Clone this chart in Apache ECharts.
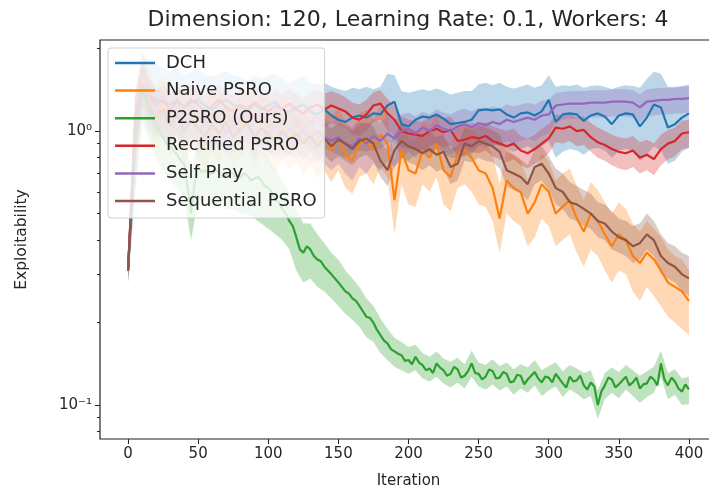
<!DOCTYPE html>
<html>
<head>
<meta charset="utf-8">
<script src="https://cdn.jsdelivr.net/npm/echarts@6/dist/echarts.min.js"></script>
<style>
  html, body { margin: 0; padding: 0; background: #fff; }
  #chart { width: 709px; height: 496px; }
</style>
</head>
<body>
<div id="chart"></div>
<script>
// Iterations sampled every 5 steps
const ITERATIONS = [0,5,10,15,20,25,30,35,40,45,50,55,60,65,70,75,80,85,90,95,100,105,110,115,120,125,130,135,140,145,150,155,160,165,170,175,180,185,190,195,200,205,210,215,220,225,230,235,240,245,250,255,260,265,270,275,280,285,290,295,300,305,310,315,320,325,330,335,340,345,350,355,360,365,370,375,380,385,390,395,400];

// P2SRO mean curve is logged at a finer step
const P2SRO_ITERATIONS = [0,2.5,5,7.5,10,12.5,15,17.5,20,22.5,25,27.5,30,32.5,35,37.5,40,42.5,45,47.5,50,52.5,55,57.5,60,62.5,65,67.5,70,72.5,75,77.5,80,82.5,85,87.5,90,92.5,95,97.5,100,102.5,105,107.5,110,112.5,115,117.5,120,122.5,125,127.5,130,132.5,135,137.5,140,142.5,145,147.5,150,152.5,155,157.5,160,162.5,165,167.5,170,172.5,175,177.5,180,182.5,185,187.5,190,192.5,195,197.5,200,202.5,205,207.5,210,212.5,215,217.5,220,222.5,225,227.5,230,232.5,235,237.5,240,242.5,245,247.5,250,252.5,255,257.5,260,262.5,265,267.5,270,272.5,275,277.5,280,282.5,285,287.5,290,292.5,295,297.5,300,302.5,305,307.5,310,312.5,315,317.5,320,322.5,325,327.5,330,332.5,335,337.5,340,342.5,345,347.5,350,352.5,355,357.5,360,362.5,365,367.5,370,372.5,375,377.5,380,382.5,385,387.5,390,392.5,395,397.5,400];

const SERIES_NAMES = ['DCH', 'Naive PSRO', 'P2SRO (Ours)', 'Rectified PSRO', 'Self Play', 'Sequential PSRO'];

const DCH_MEAN = [0.31,0.9,1.45,1.35,1.3,1.28,1.25,1.3,1.22,1.27,1.3,1.24,1.2,1.26,1.3,1.25,1.22,1.18,1.25,1.2,1.24,1.28,1.2,1.17,1.22,1.25,1.18,1.15,1.2,1.14,1.1,1.08,1.12,1.14,1.12,1.16,1.15,1.24,1.28,1.06,1.04,1.1,1.13,1.12,1.15,1.11,1.06,1.07,1.08,1.1,1.19,1.2,1.19,1.2,1.15,1.12,1.16,1.17,1.14,1.18,1.3,1.08,1.15,1.16,1.15,1.09,1.14,1.16,1.13,1.06,1.14,1.16,1.15,1.04,1.12,1.25,1.22,1.03,1.06,1.12,1.16];
const DCH_UPPER = [0.34,1.3,1.9,1.8,1.75,1.7,1.65,1.7,1.6,1.65,1.7,1.6,1.58,1.62,1.66,1.6,1.58,1.52,1.6,1.55,1.6,1.62,1.55,1.5,1.55,1.58,1.5,1.48,1.5,1.45,1.42,1.4,1.44,1.42,1.45,1.42,1.45,1.62,1.6,1.4,1.38,1.4,1.42,1.4,1.43,1.4,1.36,1.38,1.4,1.4,1.48,1.5,1.47,1.5,1.45,1.43,1.45,1.48,1.44,1.47,1.6,1.45,1.47,1.46,1.48,1.44,1.46,1.47,1.45,1.42,1.45,1.47,1.46,1.44,1.55,1.65,1.62,1.45,1.44,1.46,1.48];
const DCH_LOWER = [0.28,0.6,1.1,1.0,0.95,0.95,0.92,0.95,0.9,0.92,0.95,0.9,0.88,0.92,0.95,0.9,0.88,0.86,0.9,0.87,0.9,0.92,0.88,0.85,0.88,0.9,0.86,0.84,0.87,0.84,0.82,0.8,0.83,0.85,0.84,0.86,0.86,0.9,0.92,0.8,0.78,0.82,0.85,0.84,0.86,0.83,0.8,0.8,0.81,0.82,0.88,0.9,0.88,0.9,0.86,0.84,0.86,0.88,0.85,0.88,0.92,0.8,0.84,0.86,0.85,0.82,0.86,0.87,0.85,0.8,0.85,0.86,0.85,0.78,0.82,0.88,0.85,0.76,0.78,0.84,0.87];

const NAIVE_MEAN = [0.31,1.0,1.55,1.3,1.1,1.25,1.05,1.2,1.0,1.15,1.05,0.95,1.1,1.0,1.12,0.95,1.05,1.1,0.95,1.08,1.0,0.92,1.05,0.95,1.02,0.9,1.0,0.88,0.95,0.85,0.95,0.82,0.78,0.9,0.93,0.85,0.97,0.9,0.56,0.85,0.72,0.7,0.85,0.8,0.9,0.72,0.68,0.82,0.85,0.8,0.72,0.7,0.62,0.48,0.66,0.62,0.6,0.5,0.55,0.64,0.6,0.5,0.53,0.56,0.48,0.43,0.5,0.47,0.42,0.38,0.42,0.4,0.35,0.33,0.36,0.34,0.31,0.28,0.27,0.26,0.24];
const NAIVE_UPPER = [0.34,1.4,1.95,1.7,1.45,1.6,1.38,1.55,1.32,1.48,1.38,1.25,1.42,1.3,1.45,1.25,1.36,1.42,1.25,1.4,1.3,1.2,1.36,1.24,1.32,1.18,1.3,1.15,1.24,1.12,1.22,1.08,1.02,1.16,1.2,1.1,1.24,1.16,0.78,1.1,0.94,0.92,1.1,1.04,1.15,0.94,0.9,1.06,1.1,1.04,0.94,0.92,0.82,0.64,0.86,0.82,0.78,0.66,0.72,0.83,0.78,0.66,0.7,0.73,0.63,0.56,0.65,0.61,0.55,0.5,0.55,0.52,0.46,0.43,0.47,0.44,0.41,0.37,0.35,0.34,0.31];
const NAIVE_LOWER = [0.28,0.7,1.2,1.0,0.84,0.95,0.8,0.92,0.76,0.88,0.8,0.72,0.84,0.76,0.86,0.72,0.8,0.84,0.72,0.82,0.76,0.7,0.8,0.72,0.78,0.68,0.76,0.67,0.72,0.65,0.72,0.62,0.59,0.68,0.7,0.64,0.74,0.68,0.42,0.64,0.54,0.53,0.64,0.6,0.68,0.54,0.51,0.62,0.64,0.6,0.54,0.53,0.47,0.36,0.5,0.47,0.45,0.38,0.41,0.48,0.45,0.38,0.4,0.42,0.36,0.32,0.37,0.35,0.31,0.28,0.31,0.3,0.26,0.24,0.27,0.25,0.23,0.21,0.2,0.19,0.18];

const P2SRO_MEAN = [0.31,0.55,0.9,1.25,1.4,1.3,1.2,1.12,1.05,1.0,0.95,0.9,0.88,0.85,0.82,0.78,0.76,0.62,0.5,0.65,0.74,0.71,0.72,0.7,0.7,0.72,0.71,0.68,0.69,0.71,0.7,0.67,0.68,0.7,0.69,0.66,0.67,0.68,0.66,0.63,0.62,0.6,0.56,0.55,0.52,0.5,0.47,0.45,0.41,0.37,0.36,0.38,0.37,0.35,0.34,0.335,0.32,0.31,0.3,0.29,0.28,0.27,0.26,0.255,0.245,0.24,0.23,0.22,0.21,0.208,0.2,0.188,0.18,0.172,0.168,0.16,0.157,0.154,0.152,0.145,0.146,0.141,0.15,0.143,0.14,0.134,0.136,0.131,0.142,0.137,0.134,0.128,0.13,0.138,0.135,0.126,0.128,0.133,0.142,0.131,0.13,0.124,0.127,0.135,0.133,0.125,0.126,0.132,0.13,0.121,0.122,0.129,0.128,0.119,0.124,0.128,0.132,0.125,0.121,0.127,0.126,0.121,0.13,0.125,0.12,0.116,0.127,0.122,0.123,0.128,0.118,0.114,0.121,0.117,0.1,0.112,0.118,0.126,0.124,0.116,0.119,0.123,0.127,0.118,0.121,0.126,0.115,0.119,0.12,0.127,0.124,0.118,0.142,0.124,0.118,0.126,0.122,0.115,0.112,0.119,0.114];
const P2SRO_UPPER = [0.34,1.2,1.8,1.6,1.38,1.25,1.15,1.06,0.98,0.7,0.96,0.94,0.92,0.92,0.9,0.9,0.88,0.88,0.86,0.85,0.8,0.72,0.66,0.6,0.52,0.46,0.46,0.42,0.39,0.36,0.34,0.31,0.29,0.27,0.245,0.23,0.207,0.19,0.176,0.17,0.163,0.166,0.155,0.15,0.157,0.148,0.144,0.149,0.141,0.158,0.143,0.14,0.147,0.139,0.143,0.135,0.141,0.137,0.146,0.134,0.139,0.143,0.133,0.14,0.136,0.131,0.134,0.113,0.131,0.137,0.132,0.14,0.134,0.128,0.133,0.138,0.158,0.131,0.135,0.125,0.127];
const P2SRO_LOWER = [0.28,0.6,1.1,0.92,0.8,0.72,0.66,0.62,0.57,0.4,0.56,0.55,0.54,0.54,0.52,0.52,0.5,0.5,0.48,0.46,0.44,0.42,0.4,0.37,0.31,0.28,0.29,0.27,0.26,0.245,0.23,0.215,0.205,0.193,0.177,0.17,0.155,0.146,0.138,0.134,0.13,0.134,0.125,0.122,0.127,0.12,0.116,0.121,0.115,0.127,0.117,0.114,0.119,0.113,0.117,0.109,0.115,0.111,0.118,0.108,0.113,0.117,0.107,0.114,0.11,0.105,0.108,0.089,0.105,0.111,0.106,0.114,0.108,0.102,0.107,0.111,0.127,0.105,0.109,0.1,0.101];

const RECTIFIED_MEAN = [0.31,1.1,1.5,1.35,1.25,1.3,1.2,1.28,1.22,1.3,1.25,1.18,1.24,1.3,1.22,1.18,1.25,1.2,1.28,1.22,1.18,1.24,1.2,1.26,1.2,1.16,1.22,1.25,1.2,1.24,1.21,1.18,1.12,1.1,1.15,1.24,1.26,1.16,1.1,1.0,0.98,0.97,0.96,1.0,1.02,0.99,1.01,0.92,0.93,0.95,0.94,0.96,0.92,0.9,0.88,0.9,0.85,0.83,0.86,0.9,0.94,1.03,1.02,1.04,1.0,1.01,0.95,0.91,0.89,0.86,0.84,0.83,0.85,0.8,0.82,0.79,0.86,0.9,0.92,0.98,0.99];
const RECTIFIED_UPPER = [0.33,1.35,1.75,1.55,1.43,1.48,1.37,1.46,1.4,1.48,1.42,1.35,1.41,1.48,1.39,1.35,1.42,1.37,1.46,1.39,1.35,1.41,1.37,1.43,1.37,1.32,1.39,1.42,1.37,1.4,1.37,1.33,1.27,1.25,1.3,1.39,1.41,1.31,1.24,1.13,1.1,1.09,1.08,1.12,1.14,1.11,1.13,1.04,1.05,1.07,1.06,1.08,1.04,1.02,1.0,1.02,0.96,0.94,0.97,1.02,1.06,1.15,1.14,1.16,1.12,1.13,1.07,1.03,1.0,0.97,0.95,0.94,0.96,0.91,0.93,0.9,0.97,1.01,1.03,1.09,1.1];
const RECTIFIED_LOWER = [0.29,0.85,1.28,1.15,1.07,1.12,1.03,1.1,1.05,1.12,1.08,1.02,1.07,1.12,1.05,1.02,1.08,1.03,1.1,1.05,1.02,1.07,1.03,1.09,1.03,1.0,1.05,1.08,1.03,1.07,1.05,1.03,0.97,0.96,1.0,1.08,1.1,1.01,0.96,0.87,0.86,0.85,0.84,0.88,0.9,0.87,0.89,0.81,0.82,0.84,0.83,0.85,0.81,0.79,0.77,0.79,0.75,0.73,0.76,0.79,0.83,0.91,0.9,0.92,0.88,0.89,0.84,0.8,0.78,0.75,0.73,0.72,0.74,0.7,0.72,0.69,0.75,0.79,0.81,0.86,0.87];

const SELFPLAY_MEAN = [0.31,1.0,1.5,1.3,1.2,1.15,1.1,1.18,1.05,1.12,1.0,1.08,1.02,1.1,0.98,1.05,1.0,1.08,0.97,1.03,0.98,1.05,0.96,1.02,0.97,1.0,0.94,1.0,0.95,0.92,0.95,0.9,0.88,0.94,0.9,0.96,0.92,0.98,0.94,1.0,1.02,0.98,1.03,1.0,1.05,1.02,1.0,1.04,1.06,1.03,1.07,1.05,1.08,1.06,1.1,1.08,1.1,1.12,1.1,1.14,1.15,1.24,1.25,1.26,1.26,1.26,1.27,1.27,1.27,1.28,1.28,1.28,1.27,1.22,1.28,1.29,1.3,1.3,1.31,1.31,1.32];
const SELFPLAY_UPPER = [0.33,1.3,1.8,1.55,1.42,1.36,1.3,1.38,1.24,1.32,1.18,1.27,1.2,1.3,1.16,1.24,1.18,1.27,1.14,1.21,1.15,1.23,1.13,1.2,1.14,1.17,1.1,1.17,1.11,1.08,1.1,1.05,1.03,1.09,1.05,1.11,1.07,1.13,1.09,1.15,1.17,1.13,1.18,1.15,1.2,1.17,1.15,1.19,1.21,1.18,1.22,1.2,1.23,1.21,1.25,1.23,1.25,1.27,1.25,1.29,1.3,1.38,1.39,1.4,1.4,1.4,1.41,1.41,1.41,1.42,1.42,1.42,1.41,1.36,1.42,1.43,1.44,1.44,1.45,1.45,1.46];
const SELFPLAY_LOWER = [0.29,0.75,1.25,1.08,0.99,0.95,0.9,0.97,0.86,0.92,0.82,0.88,0.83,0.9,0.8,0.86,0.82,0.88,0.79,0.84,0.8,0.86,0.78,0.83,0.79,0.82,0.76,0.8,0.76,0.72,0.76,0.7,0.66,0.74,0.7,0.76,0.72,0.78,0.74,0.8,0.84,0.8,0.85,0.82,0.87,0.84,0.82,0.86,0.88,0.85,0.89,0.87,0.9,0.88,0.92,0.9,0.92,0.94,0.92,0.96,0.98,1.08,1.1,1.11,1.11,1.11,1.12,1.12,1.12,1.13,1.13,1.13,1.12,1.08,1.13,1.14,1.15,1.15,1.16,1.16,1.17];

const SEQUENTIAL_MEAN = [0.31,1.05,1.45,1.25,1.12,1.2,1.05,1.15,1.0,1.1,1.02,0.96,1.06,0.98,1.08,0.95,1.02,1.06,0.95,1.02,0.97,0.92,1.0,0.93,0.98,0.9,0.96,0.88,0.94,0.88,0.93,0.9,0.86,0.92,0.94,0.9,0.78,0.72,0.85,0.92,0.88,0.86,0.83,0.86,0.82,0.84,0.74,0.76,0.9,0.88,0.92,0.9,0.88,0.84,0.72,0.7,0.68,0.64,0.74,0.76,0.7,0.62,0.6,0.55,0.54,0.52,0.5,0.47,0.46,0.43,0.41,0.4,0.38,0.39,0.42,0.4,0.35,0.33,0.32,0.3,0.29];
const SEQUENTIAL_UPPER = [0.33,1.35,1.75,1.48,1.32,1.4,1.22,1.34,1.16,1.28,1.18,1.11,1.23,1.14,1.25,1.1,1.18,1.22,1.1,1.18,1.12,1.06,1.15,1.07,1.13,1.04,1.1,1.02,1.08,1.02,1.07,1.04,1.0,1.06,1.08,1.04,0.91,0.85,0.98,1.06,1.02,1.0,0.96,0.99,0.95,0.97,0.86,0.88,1.03,1.01,1.05,1.03,1.01,0.97,0.84,0.82,0.79,0.75,0.86,0.88,0.81,0.73,0.7,0.65,0.63,0.61,0.59,0.55,0.54,0.51,0.48,0.47,0.45,0.46,0.5,0.47,0.42,0.39,0.38,0.36,0.35];
const SEQUENTIAL_LOWER = [0.29,0.8,1.22,1.08,0.97,1.04,0.91,1.0,0.87,0.96,0.89,0.84,0.92,0.85,0.94,0.83,0.89,0.92,0.83,0.89,0.84,0.8,0.87,0.81,0.85,0.78,0.84,0.77,0.82,0.77,0.81,0.78,0.75,0.8,0.82,0.78,0.68,0.63,0.74,0.8,0.77,0.75,0.72,0.75,0.71,0.73,0.64,0.66,0.78,0.77,0.8,0.78,0.77,0.73,0.63,0.61,0.59,0.56,0.64,0.66,0.61,0.54,0.52,0.48,0.47,0.45,0.44,0.41,0.4,0.37,0.36,0.35,0.33,0.34,0.37,0.35,0.3,0.29,0.28,0.26,0.25];

// Axis ticks
const X_TICKS = [0, 50, 100, 150, 200, 250, 300, 350, 400];
const Y_MAJOR_TICKS = [0.1, 1];
const Y_MINOR_TICKS = [0.08, 0.09, 0.2, 0.3, 0.4, 0.5, 0.6, 0.7, 0.8, 0.9, 2];
const Y_TICK_LABELS = { '0.1': '10⁻¹', '1': '10⁰' };

const COLORS = ['#1f77b4', '#ff7f0e', '#2ca02c', '#d62728', '#9467bd', '#8c564b'];
const LINE_X = [ITERATIONS, ITERATIONS, P2SRO_ITERATIONS, ITERATIONS, ITERATIONS, ITERATIONS];
const MEANS = [DCH_MEAN, NAIVE_MEAN, P2SRO_MEAN, RECTIFIED_MEAN, SELFPLAY_MEAN, SEQUENTIAL_MEAN];
const UPPERS = [DCH_UPPER, NAIVE_UPPER, P2SRO_UPPER, RECTIFIED_UPPER, SELFPLAY_UPPER, SEQUENTIAL_UPPER];
const LOWERS = [DCH_LOWER, NAIVE_LOWER, P2SRO_LOWER, RECTIFIED_LOWER, SELFPLAY_LOWER, SEQUENTIAL_LOWER];

const FONT = 'DejaVu Sans';
const TEXT_COLOR = '#262626';

function hexToRgba(hex, a) {
  const n = parseInt(hex.slice(1), 16);
  return 'rgba(' + ((n >> 16) & 255) + ',' + ((n >> 8) & 255) + ',' + (n & 255) + ',' + a + ')';
}

// Shaded spread band between lower and upper curves
function bandSeries(idx) {
  const upper = UPPERS[idx], lower = LOWERS[idx];
  return {
    type: 'custom',
    coordinateSystem: 'cartesian2d',
    xAxisIndex: 0,
    yAxisIndex: 0,
    silent: true,
    clip: true,
    z: 1,
    data: [[0, 1]],
    encode: { x: 0, y: 1 },
    renderItem: function (params, api) {
      const pts = [];
      for (let i = 0; i < ITERATIONS.length; i++) pts.push(api.coord([ITERATIONS[i], upper[i]]));
      for (let i = ITERATIONS.length - 1; i >= 0; i--) pts.push(api.coord([ITERATIONS[i], lower[i]]));
      return {
        type: 'polygon',
        shape: { points: pts },
        style: { fill: hexToRgba(COLORS[idx], 0.3), stroke: null }
      };
    }
  };
}

function lineSeries(idx) {
  const xs = LINE_X[idx];
  return {
    name: SERIES_NAMES[idx],
    type: 'line',
    xAxisIndex: 0,
    yAxisIndex: 0,
    showSymbol: false,
    symbol: 'none',
    z: 3 + idx,
    color: COLORS[idx],
    lineStyle: { width: 2.2, color: COLORS[idx] },
    data: xs.map((x, i) => [x, MEANS[idx][i]])
  };
}

const series = [];
for (let i = 0; i < SERIES_NAMES.length; i++) series.push(bandSeries(i));
for (let i = 0; i < SERIES_NAMES.length; i++) series.push(lineSeries(i));

const chart = echarts.init(document.getElementById('chart'), null, { renderer: 'canvas' });

chart.setOption({
  animation: false,
  backgroundColor: '#fff',
  textStyle: { fontFamily: FONT },
  title: {
    text: 'Dimension: 120, Learning Rate: 0.1, Workers: 4',
    left: 403,
    top: 4,
    textAlign: 'center',
    textStyle: { fontFamily: FONT, fontSize: 22, fontWeight: 'normal', color: TEXT_COLOR }
  },
  grid: {
    left: 100,
    top: 40,
    width: 617,
    bottom: 57,
    outerBoundsMode: 'none',
    containLabel: false,
    show: true,
    borderColor: '#222',
    borderWidth: 1.2,
    backgroundColor: 'transparent'
  },
  legend: {
    data: SERIES_NAMES,
    orient: 'vertical',
    left: 108,
    top: 48,
    z: 50,
    icon: 'rect',
    itemWidth: 40,
    itemHeight: 2.5,
    itemGap: 7.6,
    padding: [5, 8, 7, 7],
    backgroundColor: 'rgba(255,255,255,0.8)',
    borderColor: '#d0d0d0',
    borderWidth: 1,
    borderRadius: 3,
    selectedMode: false,
    textStyle: { fontFamily: FONT, fontSize: 18, color: TEXT_COLOR, lineHeight: 20, padding: [0, 0, 0, 6] }
  },
  xAxis: {
    type: 'value',
    min: -20,
    max: 420,
    name: 'Iteration',
    nameLocation: 'middle',
    nameGap: 35,
    nameTextStyle: { fontFamily: FONT, fontSize: 15, color: TEXT_COLOR },
    splitLine: { show: false },
    axisLine: { show: false, onZero: false },
    axisTick: { show: true, customValues: X_TICKS, length: 5, lineStyle: { color: '#222', width: 1 } },
    axisLabel: { customValues: X_TICKS, fontFamily: FONT, fontSize: 15, color: TEXT_COLOR, margin: 8 }
  },
  yAxis: [
    {
      type: 'log',
      logBase: 10,
      min: 0.0752,
      max: 2.15,
      name: 'Exploitability',
      nameLocation: 'middle',
      nameGap: 70,
      nameRotate: 90,
      nameTextStyle: { fontFamily: FONT, fontSize: 15.5, color: TEXT_COLOR },
      splitLine: { show: false },
      axisLine: { show: false, onZero: false },
      axisTick: { show: true, customValues: Y_MAJOR_TICKS, length: 5, lineStyle: { color: '#222', width: 1 } },
      axisLabel: {
        customValues: Y_MAJOR_TICKS,
        fontFamily: FONT, fontSize: 15, color: TEXT_COLOR, margin: 8,
        formatter: function (v) { return Y_TICK_LABELS[String(v)] || ''; }
      }
    },
    {
      type: 'log',
      logBase: 10,
      min: 0.0752,
      max: 2.15,
      position: 'left',
      offset: 0,
      splitLine: { show: false },
      axisLine: { show: false, onZero: false },
      axisTick: { show: true, customValues: Y_MINOR_TICKS, length: 3, lineStyle: { color: '#222', width: 1 } },
      axisLabel: { show: false }
    }
  ],
  series: series
});
</script>
</body>
</html>
